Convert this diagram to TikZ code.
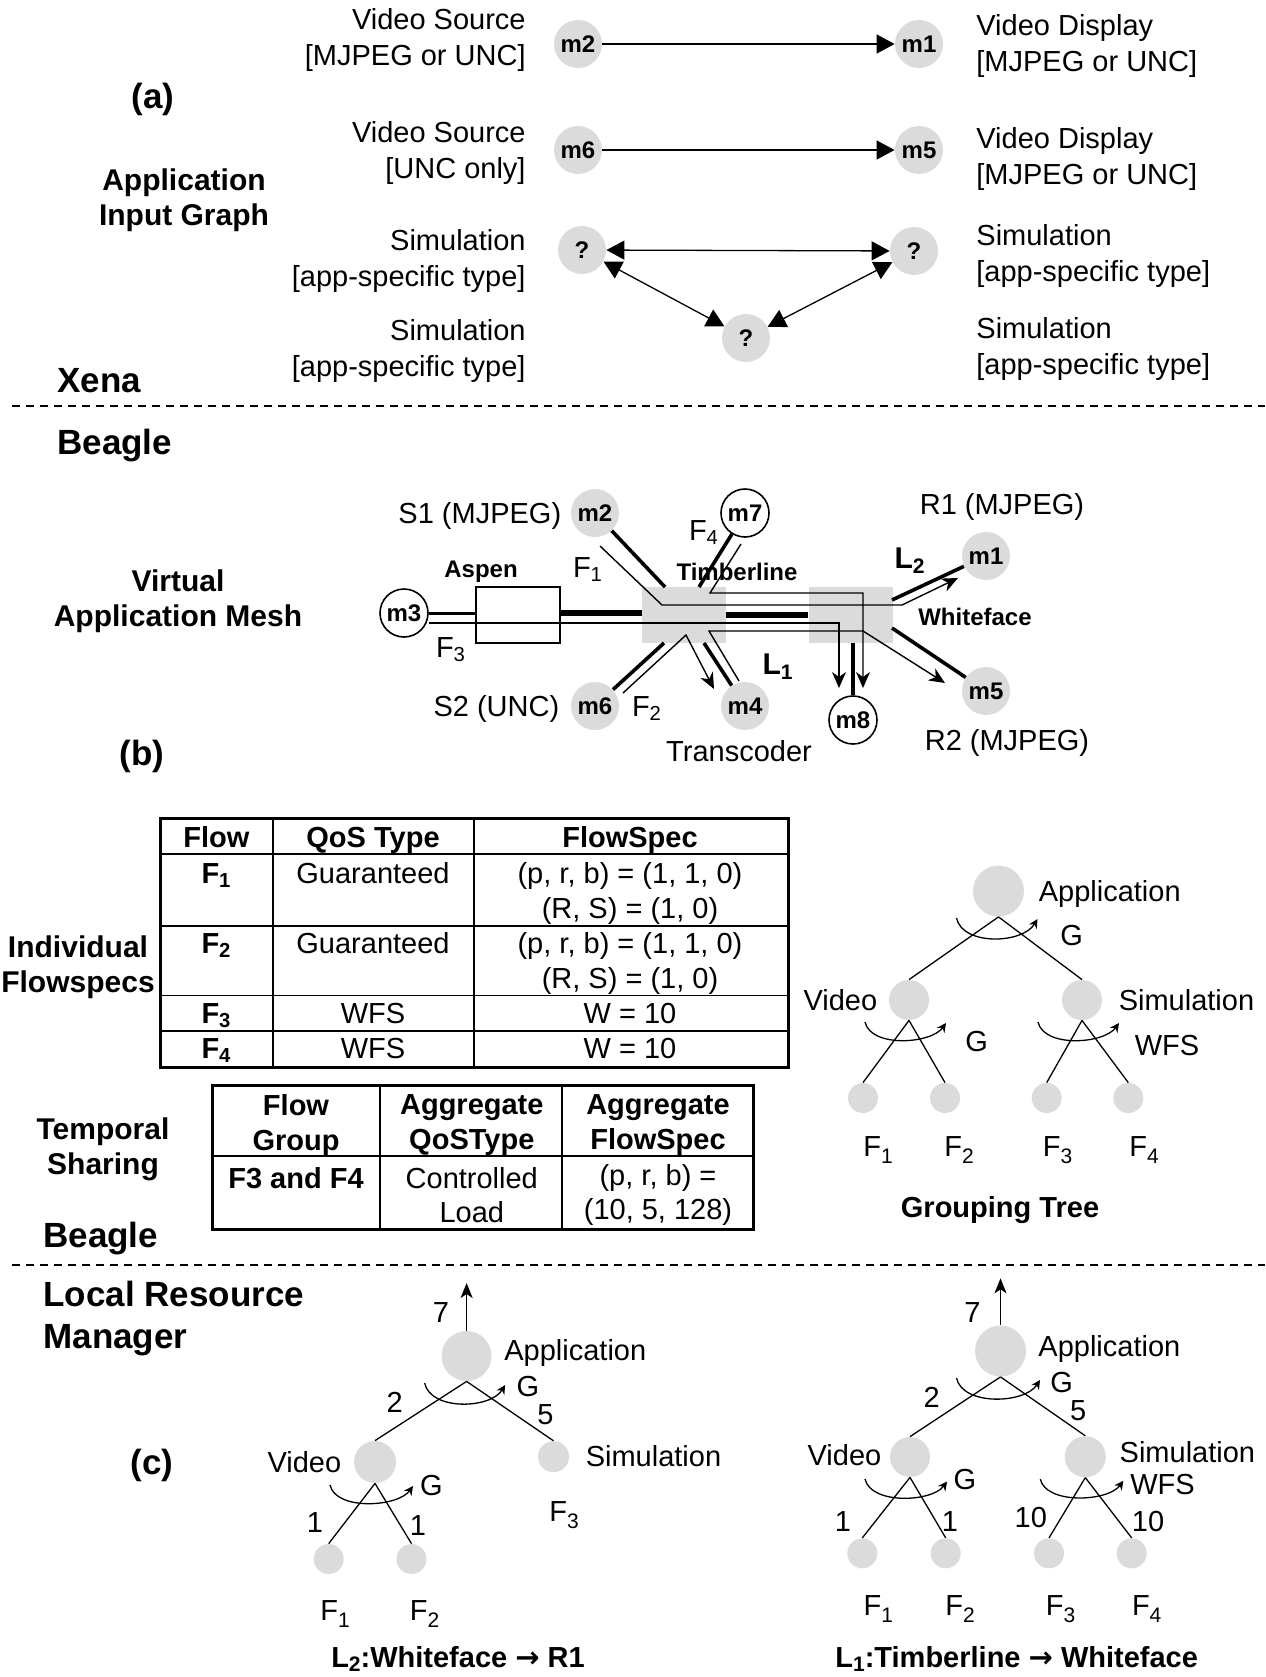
\documentclass[tikz,border=0pt]{standalone}
\usepackage{fontspec}
\setmainfont{Liberation Sans}
\newfontfamily\arrowfont{DejaVu Sans}
\usetikzlibrary{arrows.meta, positioning, calc}
\definecolor{nodegray}{gray}{0.86}
\newcommand{\lowsub}[2][3.5pt]{\raisebox{-#1}{\fontsize{10.5}{12}\selectfont #2}}

\begin{document}
\begin{tikzpicture}[x=0.5pt, y=-0.5pt,
  font=\fontsize{14.5}{18}\selectfont,
  lbl/.style={inner sep=0pt, text height=10pt, text depth=0pt},
  multi/.style={inner sep=0pt},
  sect/.style={inner sep=0pt, anchor=west, text height=12.5pt, text depth=0pt, font=\bfseries\fontsize{17.5}{21}\selectfont},
  sectm/.style={inner sep=0pt, anchor=west, align=left, font=\bfseries\fontsize{17.5}{21}\selectfont},
  side/.style={inner sep=0pt, align=center, font=\bfseries\fontsize{15}{17.5}\selectfont},
  thead/.style={inner sep=0pt, align=center, font=\bfseries\fontsize{14.5}{17.5}\selectfont},
  tbody/.style={inner sep=0pt, align=center, font=\fontsize{14.5}{17}\selectfont},
  mod/.style={circle, fill=nodegray, minimum size=24pt, inner sep=0pt, font=\bfseries\fontsize{12}{14}\selectfont},
  ext/.style={mod, fill=white, draw, line width=0.8pt},
  router/.style={rectangle, fill=nodegray, minimum width=42pt, minimum height=28pt, inner sep=0pt},
  host/.style={router, fill=white, draw, line width=0.7pt},
  rname/.style={inner sep=0pt, text height=8.6pt, text depth=0pt, font=\bfseries\fontsize{12}{14}\selectfont},
  lname/.style={inner sep=0pt, text height=10.5pt, text depth=0pt, font=\bfseries\fontsize{15}{18}\selectfont},
  req/.style={line width=0.65pt, -{Triangle[length=9pt,width=9.5pt]}},
  reqboth/.style={line width=0.65pt, {Triangle[length=9pt,width=9.5pt]}-{Triangle[length=9pt,width=9.5pt]}},
  link/.style={line width=1.8pt},
  flow/.style={line width=0.7pt},
  flowtip/.style={flow, -{Stealth[length=8pt,width=7pt,inset=2.5pt]}},
  troot/.style={circle, fill=nodegray, inner sep=0pt, minimum size=25.5pt},
  tmid/.style={circle, fill=nodegray, inner sep=0pt, minimum size=20pt},
  tleaf/.style={circle, fill=nodegray, inner sep=0pt, minimum size=15pt},
  tline/.style={line width=0.65pt},
  spin/.style={line width=0.65pt, -{Stealth[length=4.5pt,width=4.5pt]}},
  rate/.style={line width=0.7pt, -{Stealth[length=7.5pt,width=6pt,inset=2pt]}},
  divider/.style={line width=0.6pt, dash pattern=on 4pt off 3pt},
  tabframe/.style={line width=1.5pt},
  tabline/.style={line width=0.9pt}
]
  \useasboundingbox (0,0) rectangle (1265,1677);

  % Graphe d'entree (a)
  \node[mod] (a2) at (578,44) {m2};
  \node[mod] (a1) at (919,44) {m1};
  \node[mod] (a6) at (578,150) {m6};
  \node[mod] (a5) at (919,150) {m5};
  \node[mod] (qa) at (582,250) {?};
  \node[mod] (qb) at (914,251) {?};
  \node[mod] (qc) at (746,338) {?};
  \draw[req] (a2) -- (a1);
  \draw[req] (a6) -- (a5);
  \draw[reqboth] (qa) -- (qb);
  \draw[reqboth] (qa) -- (qc);
  \draw[reqboth] (qb) -- (qc);

  \node[multi, align=right, anchor=east] at (526,40) {Video Source\\{[}MJPEG or UNC{]}};
  \node[multi, align=left, anchor=west] at (976,46) {Video Display\\{[}MJPEG or UNC{]}};
  \node[multi, align=right, anchor=east] at (526,153) {Video Source\\{[}UNC only{]}};
  \node[multi, align=left, anchor=west] at (976,159) {Video Display\\{[}MJPEG or UNC{]}};
  \node[multi, align=right, anchor=east] at (526,261) {Simulation\\{[}app-specific type{]}};
  \node[multi, align=left, anchor=west] at (976,256) {Simulation\\{[}app-specific type{]}};
  \node[multi, align=right, anchor=east] at (526,351) {Simulation\\{[}app-specific type{]}};
  \node[multi, align=left, anchor=west] at (976,349) {Simulation\\{[}app-specific type{]}};

  \node[sect, anchor=center] at (153,96) {(a)};
  \node[side] at (184,200) {Application\\Input Graph};
  \node[sect] at (57,380) {Xena};
  \draw[divider] (12,406) -- (1265,406);
  \node[sect] at (57,442) {Beagle};

  % Maillage (b)
  \node[ext] (m3) at (404,613) {m3};
  \node[host] (asp) at (518,615) {};
  \node[router] (tl) at (684,615) {};
  \node[router] (wf) at (850.5,615) {};
  \node[mod] (m2) at (595,513) {m2};
  \node[ext] (m7) at (745,513) {m7};
  \node[mod] (m6) at (595,706) {m6};
  \node[mod] (m4) at (745,706) {m4};
  \node[ext] (m8) at (853,720) {m8};
  \node[mod] (m1) at (986,556) {m1};
  \node[mod] (m5) at (986,691) {m5};

  % Liens
  \coordinate (tl-m2) at (665,587);
  \coordinate (tl-m7) at (699,587);
  \coordinate (tl-m6) at (664,643);
  \coordinate (tl-m4) at (704,643);
  \coordinate (wf-m1) at (892,600);
  \coordinate (wf-m5) at (892,628);
  \draw[link, line width=1.5pt] (m3.east) -- (asp.west |- m3.east);
  \draw[link, line width=2.6pt] (asp.east |- m3.east) -- (tl.west |- m3.east);
  \draw[link, line width=2.6pt] (tl.east) -- (wf.west);
  \draw[link] (m2) -- (tl-m2);
  \draw[link] (m7) -- (tl-m7);
  \draw[link] (m6) -- (tl-m6);
  \draw[link] (m4) -- (tl-m4);
  \draw[link] (wf.south -| m8) -- (m8);
  \draw[link] (wf-m1) -- (m1);
  \draw[link] (wf-m5) -- (m5);

  % Flux
  \coordinate (f1a) at (600,546);
  \coordinate (f1b) at (662,605);
  \coordinate (f1c) at (902,605);
  \coordinate (f1d) at (958,578);
  \draw[flowtip] (f1a) -- (f1b) -- (f1c) -- (f1d);
  \coordinate (f3b) at (839,623);
  \coordinate (f3c) at (839,688);
  \draw[flowtip] (m3.east |- f3b) -- (f3b) -- (f3c);
  \coordinate (f4a) at (741,544);
  \coordinate (f4b) at (710,593);
  \coordinate (f4c) at (863,593);
  \coordinate (f4d) at (863,688);
  \draw[flowtip] (f4a) -- (f4b) -- (f4c) -- (f4d);
  \coordinate (f2a) at (623,693);
  \coordinate (f2b) at (686,635);
  \coordinate (f2c) at (714,689);
  \draw[flowtip] (f2a) -- (f2b) -- (f2c);
  \coordinate (f2d) at (739,681);
  \coordinate (f2e) at (709,631);
  \coordinate (f2f) at (863,631);
  \coordinate (f2g) at (945,683);
  \draw[flowtip] (f2d) -- (f2e) -- (f2f) -- (f2g);

  \node[lbl, left=4.5pt of m2] {S1 (MJPEG)};
  \node[lbl, left=5.5pt of m6] {S2 (UNC)};
  \node[lbl] at (704,530) {F\textsubscript{4}};
  \node[lbl] at (588,567) {F\textsubscript{1}};
  \node[lbl] at (451,647) {F\textsubscript{3}};
  \node[lbl] at (647,706) {F\textsubscript{2}};
  \node[rname] at (481,569) {Aspen};
  \node[rname] at (737,572) {Timberline};
  \node[rname] at (975,617) {Whiteface};
  \node[lname] at (778,664) {L\textsubscript{1}};
  \node[lname] at (910,558) {L\textsubscript{2}};
  \node[lbl] at (1002,504) {R1 (MJPEG)};
  \node[lbl] at (1007,740) {R2 (MJPEG)};
  \node[lbl] at (739,751) {Transcoder};
  \node[side] at (178,601) {Virtual\\Application Mesh};
  \node[sect, anchor=center] at (142,753) {(b)};

  % Tableaux
  \draw[tabframe] (160,818) rectangle (788,1067);
  \draw[tabline] (273,818) -- (273,1067) (474,818) -- (474,1067);
  \draw[tabline] (160,854) -- (788,854) (160,926) -- (788,926)
    (160,995.5) -- (788,995.5) (160,1031) -- (788,1031);
  \node[lbl] at (216.5,837) {\textbf{Flow}};
  \node[lbl] at (373,837) {\textbf{QoS Type}};
  \node[lbl] at (630,837) {\textbf{FlowSpec}};
  \node[lbl] at (216.5,873) {\textbf{F\textsubscript{1}}};
  \node[lbl] at (373,873) {Guaranteed};
  \node[lbl] at (630,873) {(p, r, b) = (1, 1, 0)};
  \node[lbl] at (630,908) {(R, S) = (1, 0)};
  \node[lbl] at (216.5,943) {\textbf{F\textsubscript{2}}};
  \node[lbl] at (373,943) {Guaranteed};
  \node[lbl] at (630,943) {(p, r, b) = (1, 1, 0)};
  \node[lbl] at (630,978) {(R, S) = (1, 0)};
  \node[lbl] at (216.5,1013) {\textbf{F\textsubscript{3}}};
  \node[lbl] at (373,1013) {WFS};
  \node[lbl] at (630,1013) {W = 10};
  \node[lbl] at (216.5,1048) {\textbf{F\textsubscript{4}}};
  \node[lbl] at (373,1048) {WFS};
  \node[lbl] at (630,1048) {W = 10};
  \node[side] at (78,967) {Individual\\Flowspecs};

  \draw[tabframe] (212,1085) rectangle (753,1229);
  \draw[tabline] (380,1085) -- (380,1229) (562,1085) -- (562,1229) (212,1156) -- (753,1156);
  \node[thead] at (296,1125.5) {Flow\\Group};
  \node[thead] at (471.8,1125.5) {Aggregate\\QoSType};
  \node[thead] at (658,1125.5) {Aggregate\\FlowSpec};
  \node[lbl] at (296,1178) {\textbf{F3 and F4}};
  \node[tbody] at (471.8,1195) {Controlled\\Load};
  \node[tbody] at (658,1195) {(p, r, b) =\\(10, 5, 128)};
  \node[side] at (103,1149) {Temporal\\Sharing};

  \node[sect] at (43,1235) {Beagle};
  \draw[divider] (12,1265) -- (1265,1265);
  \node[sectm] at (43,1319) {Local Resource\\Manager};
  \node[sect, anchor=center] at (152,1462) {(c)};

  % Arbre de regroupement
  \node[troot] (ga) at (998.5,891) {};
  \node[tmid] (gv) at (909,1000) {};
  \node[tmid] (gs) at (1082,1000) {};
  \node[tleaf] (g1) at (863,1098) {};
  \node[tleaf] (g2) at (945,1098) {};
  \node[tleaf] (g3) at (1046.7,1098) {};
  \node[tleaf] (g4) at (1128.3,1098) {};
  \draw[tline] (ga.south) -- (gv.north);
  \draw[tline] (ga.south) -- (gs.north);
  \draw[tline] (gv.south) -- (g1.north);
  \draw[tline] (gv.south) -- (g2.north);
  \draw[tline] (gs.south) -- (g3.north);
  \draw[tline] (gs.south) -- (g4.north);
  \draw[spin] ($(ga)+(-42,27)$) .. controls ($(ga)+(-36,55)$) and ($(ga)+(24,53)$) .. ($(ga)+(39,28)$);
  \draw[spin] ($(gv)+(-44,22)$) .. controls ($(gv)+(-38,48)$) and ($(gv)+(22,44)$) .. ($(gv)+(37,23)$);
  \draw[spin] ($(gs)+(-44,22)$) .. controls ($(gs)+(-38,48)$) and ($(gs)+(22,44)$) .. ($(gs)+(37,23)$);
  \node[lbl, right=7pt of ga] {Application};
  \node[lbl, left=5.5pt of gv] {Video};
  \node[lbl, right=8pt of gs] {Simulation};
  \node[lbl] at (1071.7,935) {G};
  \node[lbl] at (976.7,1041.7) {G};
  \node[lbl] at (1167,1045) {WFS};
  \node[lbl] at (878,1146) {F\lowsub{1}};
  \node[lbl] at (959,1146) {F\lowsub{2}};
  \node[lbl] at (1057.5,1146) {F\lowsub{3}};
  \node[lbl] at (1144,1146) {F\lowsub{4}};
  \node[lbl] at (1000,1207) {\textbf{Grouping Tree}};

  % Arbre L2
  \node[troot, minimum size=25pt] (ca) at (466.6,1356) {};
  \coordinate (cup) at (466.6,1283);
  \node[tmid, minimum size=21pt] (cv) at (375,1462) {};
  \node[tleaf, minimum size=15.5pt] (cs) at (553.5,1456.7) {};
  \node[tleaf] (c1) at (328.7,1559) {};
  \node[tleaf] (c2) at (411.5,1559) {};
  \draw[rate] (ca) -- (cup);
  \draw[tline] (ca.south) -- (cv.north);
  \draw[tline] (ca.south) -- (cs.north);
  \draw[tline] (cv.south) -- (c1.north);
  \draw[tline] (cv.south) -- (c2.north);
  \draw[spin] ($(ca)+(-42,27)$) .. controls ($(ca)+(-36,55)$) and ($(ca)+(24,53)$) .. ($(ca)+(38.5,29)$);
  \draw[spin] ($(cv)+(-45,23)$) .. controls ($(cv)+(-39,49)$) and ($(cv)+(23,45)$) .. ($(cv)+(38,24)$);
  \node[lbl] at (441,1312) {7};
  \node[lbl, anchor=west] at (504,1350) {Application};
  \node[lbl, left=6pt of cv] {Video};
  \node[lbl, right=8pt of cs] {Simulation};
  \node[lbl] at (564,1511.7) {F\lowsub{3}};
  \node[lbl] at (528,1386.7) {G};
  \node[lbl] at (545.5,1414) {5};
  \node[lbl] at (394.7,1402) {2};
  \node[lbl] at (431.5,1485) {G};
  \node[lbl] at (315,1522) {1};
  \node[lbl] at (418,1525) {1};
  \node[lbl] at (335,1610) {F\lowsub{1}};
  \node[lbl] at (424.5,1610) {F\lowsub{2}};
  \node[lbl] at (458,1657) {\textbf{L\lowsub[2pt]{2}:Whiteface {\arrowfont →} R1}};

  % Arbre L1
  \node[troot] (da) at (1000.5,1351) {};
  \coordinate (dup) at (1000.5,1278.3);
  \node[tmid] (dv) at (910,1457) {};
  \node[tmid, minimum size=20.5pt] (ds) at (1085.3,1456.7) {};
  \node[tleaf] (d1) at (862.3,1553.3) {};
  \node[tleaf] (d2) at (945.7,1553.3) {};
  \node[tleaf] (d3) at (1049,1553.3) {};
  \node[tleaf] (d4) at (1131.7,1553.3) {};
  \draw[rate] (da) -- (dup);
  \draw[tline] (da.south) -- (dv.north);
  \draw[tline] (da.south) -- (ds.north);
  \draw[tline] (dv.south) -- (d1.north);
  \draw[tline] (dv.south) -- (d2.north);
  \draw[tline] (ds.south) -- (d3.north);
  \draw[tline] (ds.south) -- (d4.north);
  \draw[spin] ($(da)+(-44,27)$) .. controls ($(da)+(-38,55)$) and ($(da)+(24,53)$) .. ($(da)+(39.5,29)$);
  \draw[spin] ($(dv)+(-45,22)$) .. controls ($(dv)+(-39,48)$) and ($(dv)+(22,45)$) .. ($(dv)+(37,24.5)$);
  \draw[spin] ($(ds)+(-45,22.5)$) .. controls ($(ds)+(-39,48)$) and ($(ds)+(23,45)$) .. ($(ds)+(38,24)$);
  \node[lbl] at (972.5,1312) {7};
  \node[lbl, anchor=west] at (1038,1346) {Application};
  \node[lbl, anchor=east] at (881.7,1455) {Video};
  \node[lbl, anchor=west] at (1119.3,1452) {Simulation};
  \node[lbl] at (1061.7,1382) {G};
  \node[lbl] at (1078.3,1410) {5};
  \node[lbl] at (931.7,1397) {2};
  \node[lbl] at (965,1479) {G};
  \node[lbl] at (1162.5,1484) {WFS};
  \node[lbl] at (843,1521.7) {1};
  \node[lbl] at (950,1521.7) {1};
  \node[lbl] at (1030.8,1517) {10};
  \node[lbl] at (1148,1521) {10};
  \node[lbl] at (878.3,1605) {F\lowsub{1}};
  \node[lbl] at (960,1605) {F\lowsub{2}};
  \node[lbl] at (1060.5,1605) {F\lowsub{3}};
  \node[lbl] at (1146.7,1605) {F\lowsub{4}};
  \node[lbl] at (1016.7,1657) {\textbf{L\lowsub[2pt]{1}:Timberline {\arrowfont →} Whiteface}};
\end{tikzpicture}
\end{document}
